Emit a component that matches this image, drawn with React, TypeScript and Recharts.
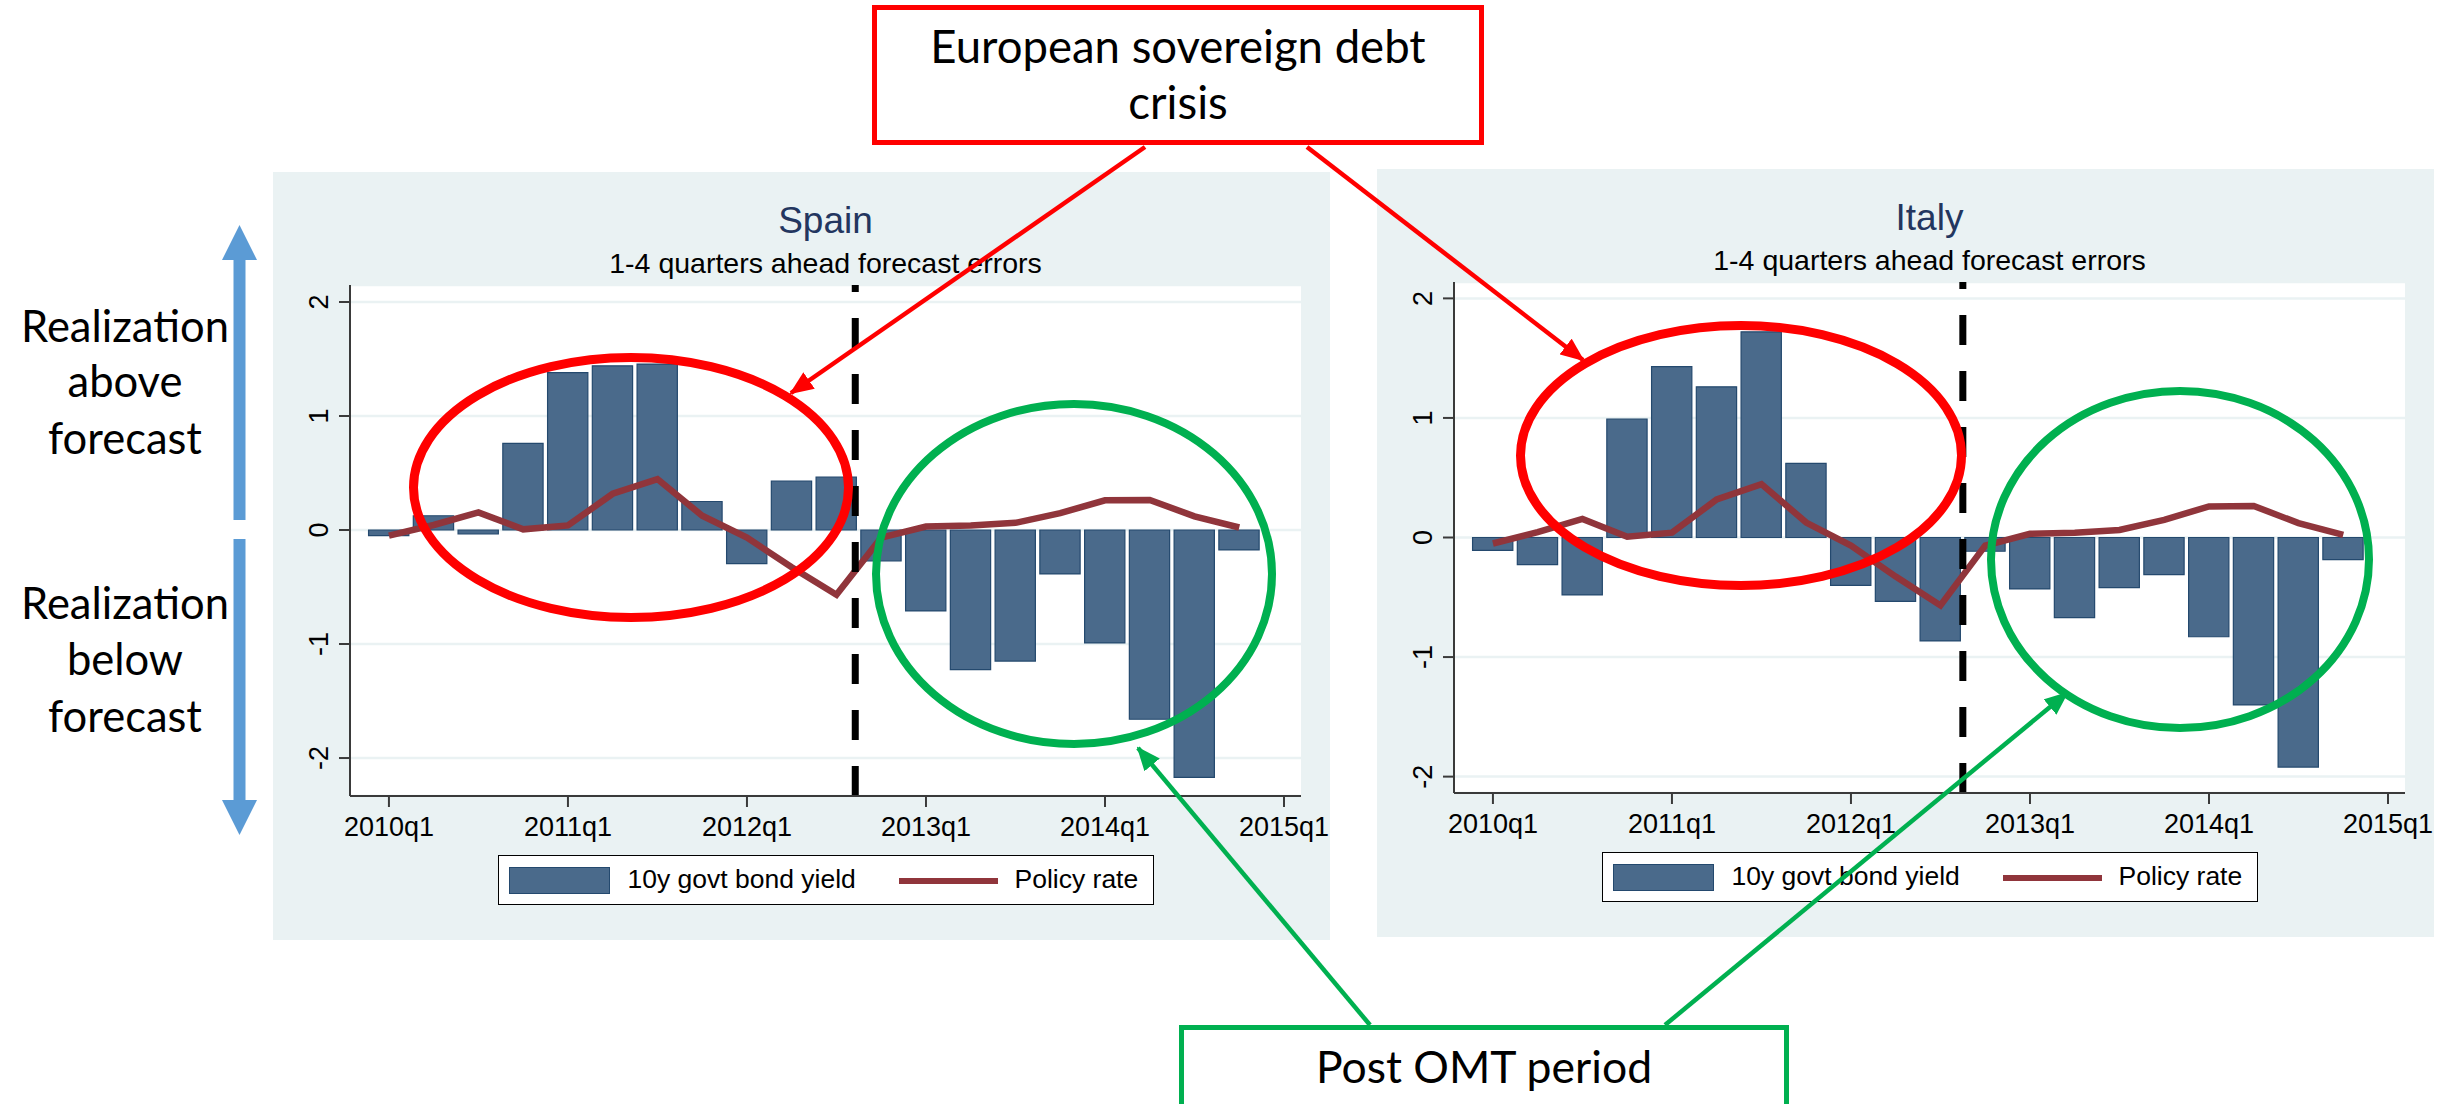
import React from "react";
import {
  Bar,
  CartesianGrid,
  ComposedChart,
  Line,
  ReferenceLine,
  XAxis,
  YAxis,
} from "recharts";

const quarters = [
  "2010q1", "2010q2", "2010q3", "2010q4",
  "2011q1", "2011q2", "2011q3", "2011q4",
  "2012q1", "2012q2", "2012q3", "2012q4",
  "2013q1", "2013q2", "2013q3", "2013q4",
  "2014q1", "2014q2", "2014q3", "2014q4",
];
const xTickLabels = ["2010q1", "2011q1", "2012q1", "2013q1", "2014q1", "2015q1"];
const yTicks = [-2, -1, 0, 1, 2];

// 1-4 quarters ahead forecast errors
const spainBond = [
  -0.05, 0.125, -0.035, 0.76, 1.38, 1.44, 1.455, 0.25, -0.295, 0.43,
  0.465, -0.27, -0.71, -1.225, -1.15, -0.385, -0.99, -1.66, -2.17, -0.175,
];
const italyBond = [
  -0.107, -0.227, -0.48, 0.99, 1.43, 1.26, 1.72, 0.62, -0.4, -0.535,
  -0.865, -0.115, -0.43, -0.67, -0.42, -0.31, -0.83, -1.4, -1.92, -0.185,
];
const policyRate = [
  -0.05, 0.044, 0.155, 0.006, 0.04, 0.318, 0.447, 0.125, -0.067, -0.327,
  -0.568, -0.067, 0.031, 0.04, 0.063, 0.148, 0.26, 0.264, 0.12, 0.022,
];

// OMT announcement (position in quarters from 2010q1)
const spainOmt = 10.42;
const italyOmt = 10.5;

const xDomain: [number, number] = [-0.87, 20.38];
const spainYDomain: [number, number] = [-2.333, 2.149];
const italyYDomain: [number, number] = [-2.137, 2.137];

const xTicks = xTickLabels.map((l) => (parseInt(l, 10) - 2010) * 4);

const BAR = "#4a6a8b";
const BAR_EDGE = "#24496e";
const RATE = "#90353b";
const PANEL_BG = "#eaf2f3";
const AXIS = "#3a3a3a";
const STATA_FONT = "'Liberation Sans', Arial, sans-serif";
const OFFICE_FONT = "Lato, 'Open Sans', sans-serif";

const YTick = (props: any) => {
  const { x, y, payload } = props;
  return (
    <text
      x={x}
      y={y}
      transform={`rotate(-90 ${x} ${y})`}
      textAnchor="middle"
      fontSize={27}
      fill="#000"
      fontFamily={STATA_FONT}
    >
      {payload.value}
    </text>
  );
};

function Panel({
  title,
  bond,
  omt,
  yDomain,
  left,
  top,
}: {
  title: string;
  bond: number[];
  omt: number;
  yDomain: [number, number];
  left: number;
  top: number;
}) {
  const W = 1057;
  const H = 768;
  const plotLeft = 77;
  const plotRight = 29;
  const plotTop = 113;
  const plotBottom = 144;
  const xAxisH = 50;
  const plotW = W - plotLeft - plotRight;
  const barSize = plotW / (xDomain[1] - xDomain[0]);
  const cx = plotLeft + plotW / 2;

  const data = quarters.map((q, i) => ({
    q: i,
    label: q,
    bond: bond[i],
    policy: policyRate[i],
  }));

  return (
    <div
      style={{
        position: "absolute",
        left,
        top,
        width: W,
        height: H,
        background: PANEL_BG,
      }}
    >
      <svg
        width={W}
        height={120}
        style={{ position: "absolute", left: 0, top: 0 }}
      >
        <text
          x={cx}
          y={61}
          textAnchor="middle"
          fontSize={37}
          fill="#23365f"
          fontFamily={STATA_FONT}
        >
          {title}
        </text>
        <text
          x={cx}
          y={101}
          textAnchor="middle"
          fontSize={28.5}
          fill="#000"
          fontFamily={STATA_FONT}
        >
          1-4 quarters ahead forecast errors
        </text>
      </svg>
      <div style={{ position: "absolute", left: 0, top: 0 }}>
        <ComposedChart
          width={W}
          height={H}
          data={data}
          margin={{
            top: plotTop,
            right: plotRight,
            left: 0,
            bottom: plotBottom - xAxisH,
          }}
          barGap={0}
          barCategoryGap={0}
        >
          <CartesianGrid
            vertical={false}
            stroke={PANEL_BG}
            strokeWidth={2.5}
            fill="#ffffff"
            fillOpacity={1}
          />
          <XAxis
            dataKey="q"
            type="number"
            domain={xDomain}
            allowDataOverflow
            ticks={xTicks}
            interval={0}
            tickFormatter={(v: number) => xTickLabels[xTicks.indexOf(v)] ?? ""}
            height={xAxisH}
            tickSize={11}
            tickMargin={10}
            axisLine={{ stroke: AXIS, strokeWidth: 2 }}
            tickLine={{ stroke: AXIS, strokeWidth: 2 }}
            tick={{ fontSize: 27, fill: "#000", fontFamily: STATA_FONT }}
          />
          <YAxis
            type="number"
            domain={yDomain}
            allowDataOverflow
            ticks={yTicks}
            interval={0}
            width={plotLeft}
            tickSize={11}
            tickMargin={11}
            axisLine={{ stroke: AXIS, strokeWidth: 2 }}
            tickLine={{ stroke: AXIS, strokeWidth: 2 }}
            tick={<YTick />}
          />
          <Bar
            dataKey="bond"
            fill={BAR}
            stroke={BAR_EDGE}
            strokeWidth={1.2}
            barSize={barSize}
            isAnimationActive={false}
          />
          <Line
            type="linear"
            dataKey="policy"
            stroke={RATE}
            strokeWidth={6.5}
            dot={false}
            activeDot={false}
            isAnimationActive={false}
          />
          <ReferenceLine
            x={omt}
            stroke="#000"
            strokeWidth={7}
            strokeDasharray="30 26"
          />
        </ComposedChart>
      </div>
      <div
        style={{
          position: "absolute",
          left: cx - 328,
          top: 683,
          width: 656,
          height: 50,
          boxSizing: "border-box",
          border: "1.5px solid #000",
          background: "#fff",
          fontFamily: STATA_FONT,
          fontSize: 26.5,
          color: "#000",
        }}
      >
        <div
          style={{
            position: "absolute",
            left: 10,
            top: 11,
            width: 101,
            height: 27,
            boxSizing: "border-box",
            background: BAR,
            border: `1.5px solid ${BAR_EDGE}`,
          }}
        />
        <div style={{ position: "absolute", left: 129, top: 8, lineHeight: "30px" }}>
          10y govt bond yield
        </div>
        <div
          style={{
            position: "absolute",
            left: 400,
            top: 22,
            width: 99,
            height: 6,
            background: RATE,
          }}
        />
        <div style={{ position: "absolute", left: 516, top: 8, lineHeight: "30px" }}>
          Policy rate
        </div>
      </div>
    </div>
  );
}

function Annotations() {
  return (
    <svg
      width={2460}
      height={1104}
      style={{ position: "absolute", left: 0, top: 0, pointerEvents: "none" }}
    >
      <defs>
        <marker
          id="headRed"
          markerUnits="userSpaceOnUse"
          markerWidth={24}
          markerHeight={20}
          refX={22}
          refY={10}
          orient="auto"
        >
          <path d="M0,0 L24,10 L0,20 z" fill="#ff0000" />
        </marker>
        <marker
          id="headGreen"
          markerUnits="userSpaceOnUse"
          markerWidth={24}
          markerHeight={20}
          refX={22}
          refY={10}
          orient="auto"
        >
          <path d="M0,0 L24,10 L0,20 z" fill="#00b050" />
        </marker>
      </defs>

      {/* left: realization above / below forecast */}
      <polygon points="222,260 239.5,225 257,260" fill="#5b9bd5" />
      <rect x={233.5} y={259} width={12} height={261} fill="#5b9bd5" />
      <rect x={233.5} y={539} width={12} height={262} fill="#5b9bd5" />
      <polygon points="222,800 239.5,835 257,800" fill="#5b9bd5" />
      <g fontFamily={OFFICE_FONT} fontSize={43.5} fill="#000" textAnchor="middle">
        <text x={125} y={342}>Realization</text>
        <text x={125} y={397}>above</text>
        <text x={125} y={454}>forecast</text>
        <text x={125} y={619}>Realization</text>
        <text x={125} y={675}>below</text>
        <text x={125} y={732}>forecast</text>
      </g>

      {/* crisis period */}
      <ellipse cx={631} cy={487.5} rx={217.5} ry={130} fill="none" stroke="#ff0000" strokeWidth={9} />
      <ellipse cx={1741} cy={455.5} rx={220.5} ry={130} fill="none" stroke="#ff0000" strokeWidth={9} />
      <line x1={1145} y1={147} x2={791} y2={393} stroke="#ff0000" strokeWidth={4.5} markerEnd="url(#headRed)" />
      <line x1={1307} y1={147} x2={1583} y2={360} stroke="#ff0000" strokeWidth={4.5} markerEnd="url(#headRed)" />
      <rect x={874.5} y={7.5} width={607} height={135} fill="#fff" stroke="#ff0000" strokeWidth={5} />
      <g fontFamily={OFFICE_FONT} fontSize={45.5} fill="#000" textAnchor="middle">
        <text x={1178} y={63}>European sovereign debt</text>
        <text x={1178} y={119}>crisis</text>
      </g>

      {/* post OMT period */}
      <ellipse cx={1074} cy={574} rx={198} ry={170} fill="none" stroke="#00b050" strokeWidth={8} />
      <ellipse cx={2180} cy={559.5} rx={189} ry={168.5} fill="none" stroke="#00b050" strokeWidth={8} />
      <line x1={1370} y1={1025} x2={1138} y2={748} stroke="#00b050" strokeWidth={4.5} markerEnd="url(#headGreen)" />
      <line x1={1665} y1={1025} x2={2067} y2={693} stroke="#00b050" strokeWidth={4.5} markerEnd="url(#headGreen)" />
      <rect x={1181.5} y={1027.5} width={605} height={80} fill="#fff" stroke="#00b050" strokeWidth={5} />
      <text
        x={1484}
        y={1083}
        textAnchor="middle"
        fontFamily={OFFICE_FONT}
        fontSize={44.5}
        fill="#000"
      >
        Post OMT period
      </text>
    </svg>
  );
}

export default function App() {
  return (
    <div
      style={{
        position: "absolute",
        left: 0,
        top: 0,
        width: 2460,
        height: 1104,
        background: "#fff",
        overflow: "hidden",
      }}
    >
      <Panel title="Spain" bond={spainBond} omt={spainOmt} yDomain={spainYDomain} left={273} top={172} />
      <Panel title="Italy" bond={italyBond} omt={italyOmt} yDomain={italyYDomain} left={1377} top={169} />
      <Annotations />
    </div>
  );
}
